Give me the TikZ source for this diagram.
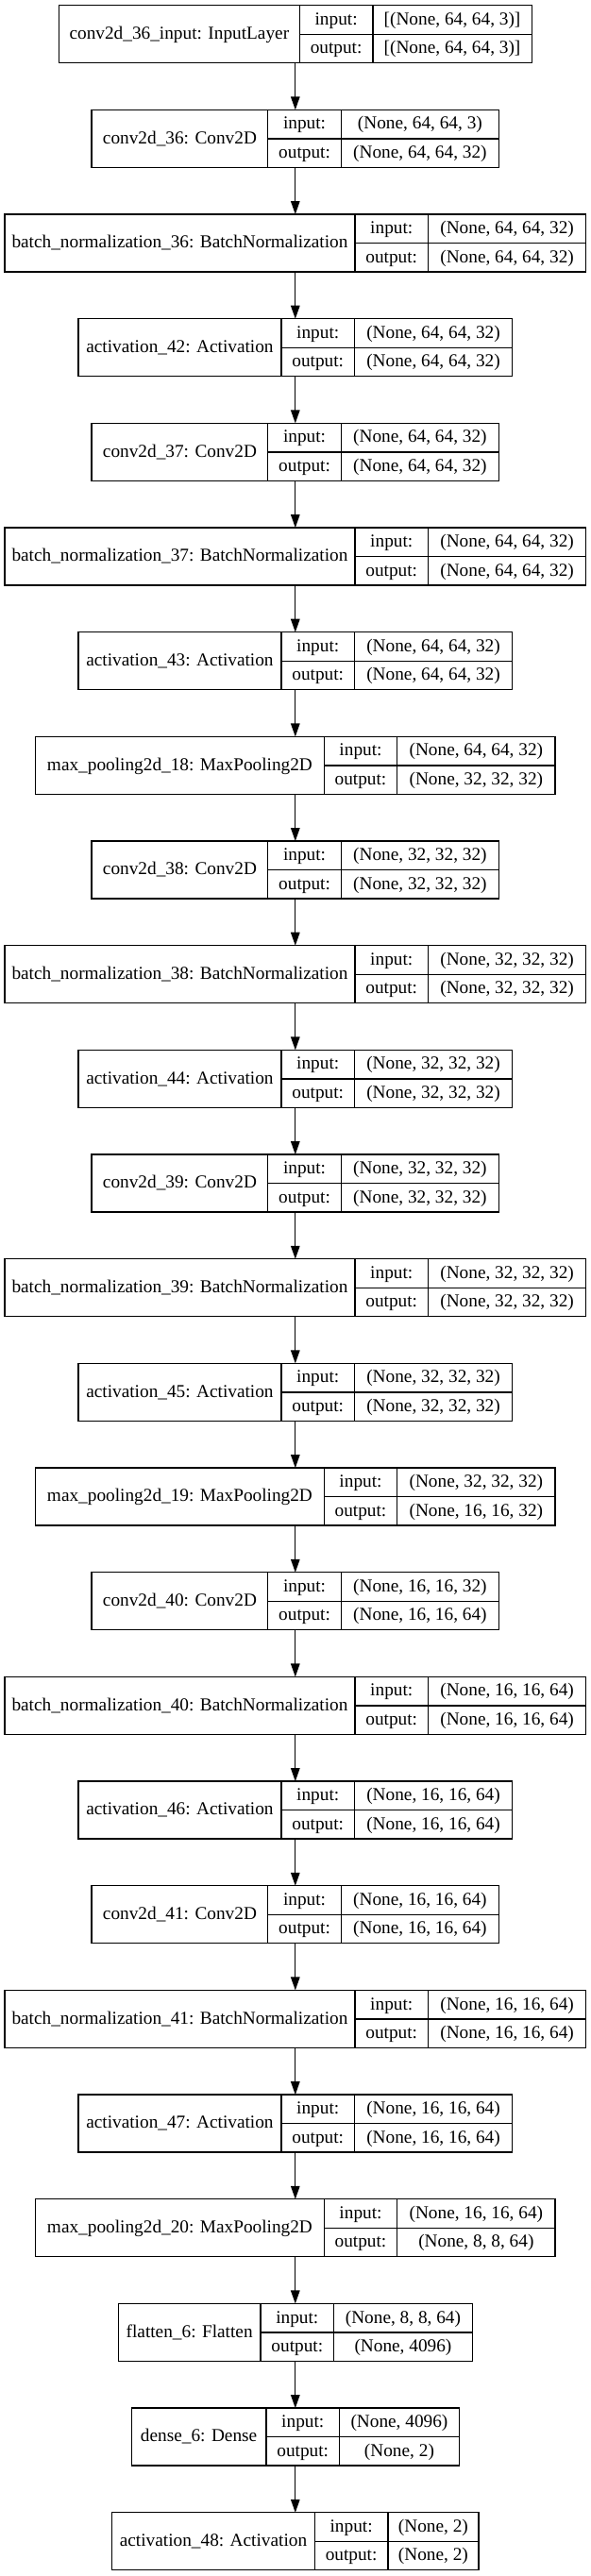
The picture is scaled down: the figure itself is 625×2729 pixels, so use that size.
\documentclass[tikz,border=0pt]{standalone}
\usepackage{fontspec}
\setmainfont{Liberation Serif}
\usetikzlibrary{arrows.meta}

\tikzset{
  cell/.style={draw, line width=1.33pt, inner sep=0pt, outer sep=0pt,
    text height=13.4pt, text depth=2.8pt, font=\fontsize{19.3}{23}\selectfont},
  namecell/.style={cell, minimum height=61pt},
  portcell/.style={cell, minimum height=30.5pt, minimum width=77.5pt},
  shapecell/.style={cell, minimum height=30.5pt},
  flow/.style={-{Triangle[length=14pt,width=9.5pt]}, line width=1.33pt},
}

\def\cx{312.8} % centre line
\def\pitch{110.67} % layer to layer

% #1 id, #2 row, #3 name width, #4 shape width, #5 name, #6 input, #7 output
\newcommand\layer[7]{%
  \pgfmathsetmacro\ytop{-(5.7+#2*\pitch)}
  \pgfmathsetmacro\xleft{\cx-(#3+77.5+#4)/2}
  \node[namecell, minimum width=#3pt, anchor=north west] (#1) at (\xleft,\ytop) {#5};
  \node[portcell, anchor=north west] (#1-pi) at (#1.north east) {input:};
  \node[portcell, anchor=north west] (#1-po) at (#1-pi.south west) {output:};
  \node[shapecell, minimum width=#4pt, anchor=north west] (#1-si) at (#1-pi.north east) {#6};
  \node[shapecell, minimum width=#4pt, anchor=north west] (#1-so) at (#1-si.south west) {#7};
  \coordinate (#1-top) at (\cx,\ytop);
  \coordinate (#1-bot) at (\cx,\ytop-61);
}

\begin{document}
\begin{tikzpicture}[x=1pt,y=1pt]
  \fill[white] (0,0) rectangle (625,-2729);

  \layer{inp}{0}{255}{168.4}{conv2d\_36\_input: InputLayer}{[(None, 64, 64, 3)]}{[(None, 64, 64, 3)]}
  \layer{c36}{1}{186.7}{167.2}{conv2d\_36: Conv2D}{(None, 64, 64, 3)}{(None, 64, 64, 32)}
  \layer{bn36}{2}{371.1}{167.2}{batch\_normalization\_36: BatchNormalization}{(None, 64, 64, 32)}{(None, 64, 64, 32)}
  \layer{a42}{3}{215}{167.2}{activation\_42: Activation}{(None, 64, 64, 32)}{(None, 64, 64, 32)}
  \layer{c37}{4}{186.7}{167.2}{conv2d\_37: Conv2D}{(None, 64, 64, 32)}{(None, 64, 64, 32)}
  \layer{bn37}{5}{371.1}{167.2}{batch\_normalization\_37: BatchNormalization}{(None, 64, 64, 32)}{(None, 64, 64, 32)}
  \layer{a43}{6}{215}{167.2}{activation\_43: Activation}{(None, 64, 64, 32)}{(None, 64, 64, 32)}
  \layer{mp18}{7}{305.6}{167.2}{max\_pooling2d\_18: MaxPooling2D}{(None, 64, 64, 32)}{(None, 32, 32, 32)}
  \layer{c38}{8}{186.7}{167.2}{conv2d\_38: Conv2D}{(None, 32, 32, 32)}{(None, 32, 32, 32)}
  \layer{bn38}{9}{371.1}{167.2}{batch\_normalization\_38: BatchNormalization}{(None, 32, 32, 32)}{(None, 32, 32, 32)}
  \layer{a44}{10}{215}{167.2}{activation\_44: Activation}{(None, 32, 32, 32)}{(None, 32, 32, 32)}
  \layer{c39}{11}{186.7}{167.2}{conv2d\_39: Conv2D}{(None, 32, 32, 32)}{(None, 32, 32, 32)}
  \layer{bn39}{12}{371.1}{167.2}{batch\_normalization\_39: BatchNormalization}{(None, 32, 32, 32)}{(None, 32, 32, 32)}
  \layer{a45}{13}{215}{167.2}{activation\_45: Activation}{(None, 32, 32, 32)}{(None, 32, 32, 32)}
  \layer{mp19}{14}{305.6}{167.2}{max\_pooling2d\_19: MaxPooling2D}{(None, 32, 32, 32)}{(None, 16, 16, 32)}
  \layer{c40}{15}{186.7}{167.2}{conv2d\_40: Conv2D}{(None, 16, 16, 32)}{(None, 16, 16, 64)}
  \layer{bn40}{16}{371.1}{167.2}{batch\_normalization\_40: BatchNormalization}{(None, 16, 16, 64)}{(None, 16, 16, 64)}
  \layer{a46}{17}{215}{167.2}{activation\_46: Activation}{(None, 16, 16, 64)}{(None, 16, 16, 64)}
  \layer{c41}{18}{186.7}{167.2}{conv2d\_41: Conv2D}{(None, 16, 16, 64)}{(None, 16, 16, 64)}
  \layer{bn41}{19}{371.1}{167.2}{batch\_normalization\_41: BatchNormalization}{(None, 16, 16, 64)}{(None, 16, 16, 64)}
  \layer{a47}{20}{215}{167.2}{activation\_47: Activation}{(None, 16, 16, 64)}{(None, 16, 16, 64)}
  \layer{mp20}{21}{305.6}{167.2}{max\_pooling2d\_20: MaxPooling2D}{(None, 16, 16, 64)}{(None, 8, 8, 64)}
  \layer{fl6}{22}{150.8}{146.8}{flatten\_6: Flatten}{(None, 8, 8, 64)}{(None, 4096)}
  \layer{d6}{23}{142.8}{126.9}{dense\_6: Dense}{(None, 4096)}{(None, 2)}
  \layer{a48}{24}{214.7}{96.1}{activation\_48: Activation}{(None, 2)}{(None, 2)}

  \draw[flow] (inp-bot) -- (c36-top);
  \draw[flow] (c36-bot) -- (bn36-top);
  \draw[flow] (bn36-bot) -- (a42-top);
  \draw[flow] (a42-bot) -- (c37-top);
  \draw[flow] (c37-bot) -- (bn37-top);
  \draw[flow] (bn37-bot) -- (a43-top);
  \draw[flow] (a43-bot) -- (mp18-top);
  \draw[flow] (mp18-bot) -- (c38-top);
  \draw[flow] (c38-bot) -- (bn38-top);
  \draw[flow] (bn38-bot) -- (a44-top);
  \draw[flow] (a44-bot) -- (c39-top);
  \draw[flow] (c39-bot) -- (bn39-top);
  \draw[flow] (bn39-bot) -- (a45-top);
  \draw[flow] (a45-bot) -- (mp19-top);
  \draw[flow] (mp19-bot) -- (c40-top);
  \draw[flow] (c40-bot) -- (bn40-top);
  \draw[flow] (bn40-bot) -- (a46-top);
  \draw[flow] (a46-bot) -- (c41-top);
  \draw[flow] (c41-bot) -- (bn41-top);
  \draw[flow] (bn41-bot) -- (a47-top);
  \draw[flow] (a47-bot) -- (mp20-top);
  \draw[flow] (mp20-bot) -- (fl6-top);
  \draw[flow] (fl6-bot) -- (d6-top);
  \draw[flow] (d6-bot) -- (a48-top);
\end{tikzpicture}
\end{document}
